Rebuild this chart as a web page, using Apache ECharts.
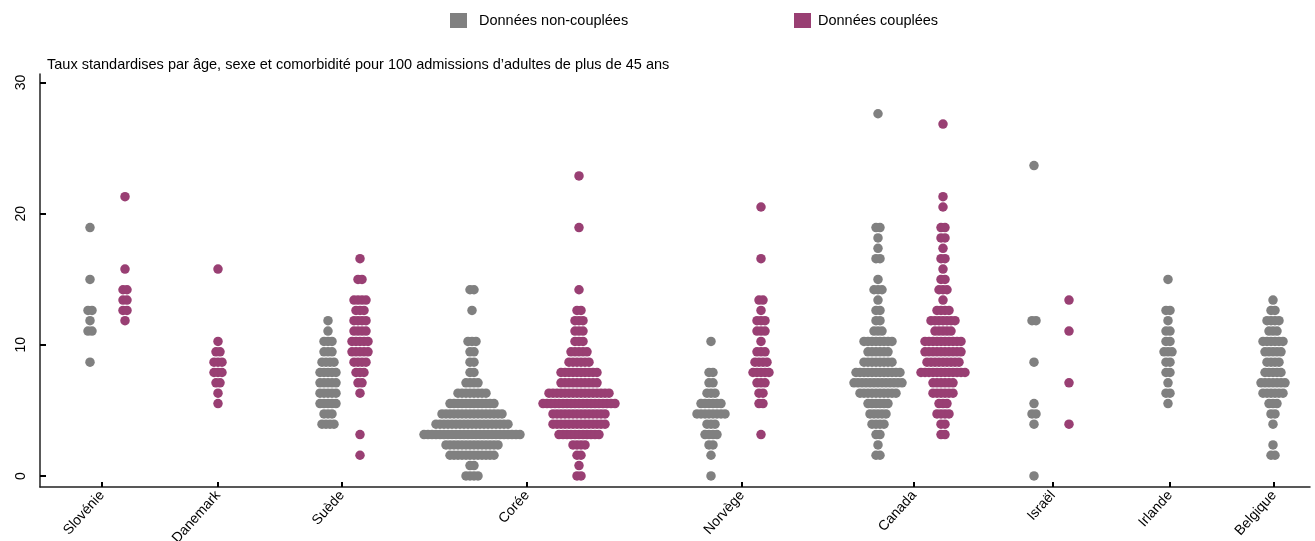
<!DOCTYPE html>
<html>
<head>
<meta charset="utf-8">
<script src="https://cdn.jsdelivr.net/npm/echarts@6/dist/echarts.min.js"></script>
<style>html,body{margin:0;padding:0;background:#fff}#c{width:1315px;height:541px}</style>
</head>
<body>
<div id="c"></div>
<script>
// ---------- DATA ----------
const categories = ['Slovénie','Danemark','Suède','Corée','Norvège','Canada','Israël','Irlande','Belgique'];
const yTickLabels = [0, 10, 20, 30];
const seriesNames = ['Données non-couplées', 'Données couplées'];
const titleText = 'Taux standardises par âge, sexe et comorbidité pour 100 admissions d\u2019adultes de plus de 45 ans';

// each entry: [rate value, number of units with that value]
const nonCouplees_Slovenie = [[18.94,1],[14.99,1],[12.62,2],[11.84,1],[11.05,2],[8.68,1]];
const couplees_Slovenie    = [[21.30,1],[15.78,1],[14.20,2],[13.41,2],[12.62,2],[11.84,1]];
const nonCouplees_Danemark = [];
const couplees_Danemark    = [[15.78,1],[10.26,1],[9.47,2],[8.68,3],[7.89,3],[7.10,2],[6.31,1],[5.52,1]];
const nonCouplees_Suede    = [[11.84,1],[11.05,1],[10.26,3],[9.47,3],[8.68,4],[7.89,5],[7.10,5],[6.31,5],[5.52,5],[4.73,3],[3.95,4]];
const couplees_Suede       = [[16.57,1],[14.99,2],[13.41,4],[12.62,3],[11.84,4],[11.05,4],[10.26,5],[9.47,5],[8.68,4],[7.89,3],[7.10,2],[6.31,1],[3.16,1],[1.58,1]];
const nonCouplees_Coree    = [[14.20,2],[12.62,1],[10.26,3],[9.47,2],[8.68,2],[7.89,2],[7.10,4],[6.31,8],[5.52,12],[4.73,16],[3.95,19],[3.16,25],[2.37,14],[1.58,12],[0.79,2],[0,4]];
const couplees_Coree       = [[22.88,1],[18.94,1],[14.20,1],[12.62,2],[11.84,3],[11.05,3],[10.26,3],[9.47,5],[8.68,6],[7.89,10],[7.10,10],[6.31,16],[5.52,19],[4.73,14],[3.95,14],[3.16,11],[2.37,4],[1.58,2],[0.79,1],[0,2]];
const nonCouplees_Norvege  = [[10.26,1],[7.89,2],[7.10,2],[6.31,3],[5.52,6],[4.73,8],[3.95,3],[3.16,4],[2.37,2],[1.58,1],[0,1]];
const couplees_Norvege     = [[20.51,1],[16.57,1],[13.41,2],[12.62,1],[11.84,3],[11.05,3],[10.26,1],[9.47,3],[8.68,4],[7.89,5],[7.10,3],[6.31,2],[5.52,2],[3.16,1]];
const nonCouplees_Canada   = [[27.62,1],[18.94,2],[18.15,1],[17.36,1],[16.57,2],[14.99,1],[14.20,3],[13.41,1],[12.62,2],[11.84,2],[11.05,3],[10.26,8],[9.47,6],[8.68,8],[7.89,12],[7.10,13],[6.31,10],[5.52,6],[4.73,5],[3.95,4],[3.16,2],[2.37,1],[1.58,2]];
const couplees_Canada      = [[26.83,1],[21.30,1],[20.51,1],[18.94,2],[18.15,2],[17.36,1],[16.57,2],[15.78,1],[14.99,2],[14.20,3],[13.41,1],[12.62,4],[11.84,7],[11.05,5],[10.26,10],[9.47,10],[8.68,9],[7.89,12],[7.10,6],[6.31,6],[5.52,3],[4.73,4],[3.95,2],[3.16,2]];
const nonCouplees_Israel   = [[23.67,1],[11.84,2],[8.68,1],[5.52,1],[4.73,2],[3.95,1],[0,1]];
const couplees_Israel      = [[13.41,1],[11.05,1],[7.10,1],[3.95,1]];
const nonCouplees_Irlande  = [[14.99,1],[12.62,2],[11.84,1],[11.05,2],[10.26,2],[9.47,3],[8.68,2],[7.89,2],[7.10,1],[6.31,2],[5.52,1]];
const couplees_Irlande     = [];
const nonCouplees_Belgique = [[13.41,1],[12.62,2],[11.84,4],[11.05,3],[10.26,6],[9.47,5],[8.68,4],[7.89,5],[7.10,7],[6.31,6],[5.52,3],[4.73,2],[3.95,1],[2.37,1],[1.58,2]];
const couplees_Belgique    = [];

const nonCouplees = [nonCouplees_Slovenie, nonCouplees_Danemark, nonCouplees_Suede, nonCouplees_Coree, nonCouplees_Norvege, nonCouplees_Canada, nonCouplees_Israel, nonCouplees_Irlande, nonCouplees_Belgique];
const couplees    = [couplees_Slovenie, couplees_Danemark, couplees_Suede, couplees_Coree, couplees_Norvege, couplees_Canada, couplees_Israel, couplees_Irlande, couplees_Belgique];

// ---------- LAYOUT (horizontal axis in layout units) ----------
const tickPos      = [102, 218, 342, 527, 742, 914, 1053, 1170, 1274];
const greyCenter   = [90, 218, 328, 472, 711, 878, 1034, 1168, 1273];
const purpleCenter = [125, 218, 360, 579, 761, 943, 1069, 1170, 1274];
const dotStep = 4;

function swarm(groups, centers) {
  const pts = [];
  groups.forEach((rows, gi) => {
    rows.forEach(([v, n]) => {
      for (let i = 0; i < n; i++) {
        pts.push([centers[gi] + (i - (n - 1) / 2) * dotStep, v]);
      }
    });
  });
  return pts;
}

const GREY = '#808080', PURPLE = '#993f73';
const FONT = 'Liberation Sans';

const chart = echarts.init(document.getElementById('c'), null, {renderer: 'canvas'});
chart.setOption({
  animation: false,
  backgroundColor: '#fff',
  title: {
    text: titleText, left: 42, top: 52,
    textStyle: {fontFamily: FONT, fontSize: 14.5, fontWeight: 'normal', color: '#000'}
  },
  legend: [
    {data: [seriesNames[0]], left: 445, top: 8, icon: 'rect', itemWidth: 17, itemHeight: 15,
     textStyle: {fontFamily: FONT, fontSize: 14.5, color: '#000', padding: [2, 0, 0, 7]}},
    {data: [seriesNames[1]], left: 789, top: 8, icon: 'rect', itemWidth: 17, itemHeight: 15,
     textStyle: {fontFamily: FONT, fontSize: 14.5, color: '#000', padding: [2, 0, 0, 2]}}
  ],
  grid: {left: 40, right: 5, top: 74, bottom: 54, outerBoundsMode: 'none', containLabel: false},
  xAxis: {
    type: 'value', min: 40, max: 1310,
    axisLine: {show: true, onZero: false, lineStyle: {color: '#222', width: 1.5}},
    splitLine: {show: false},
    axisTick: {show: true, inside: true, length: 5, customValues: tickPos, lineStyle: {color: '#000', width: 2}},
    axisLabel: {
      customValues: tickPos, rotate: 48, margin: 6,
      formatter: v => categories[tickPos.indexOf(v)] || '',
      fontFamily: FONT, fontSize: 14, color: '#000'
    }
  },
  yAxis: {
    type: 'value', min: -0.84, max: 30.65,
    axisLine: {show: true, onZero: false, lineStyle: {color: '#222', width: 1.5}},
    splitLine: {show: false},
    axisTick: {show: true, inside: true, length: 6, customValues: yTickLabels, lineStyle: {color: '#000', width: 2}},
    axisLabel: {
      customValues: yTickLabels, rotate: 90, margin: 12,
      fontFamily: FONT, fontSize: 14, color: '#000'
    }
  },
  series: [
    {name: seriesNames[0], type: 'scatter', symbol: 'circle', symbolSize: 9.5,
     itemStyle: {color: GREY, opacity: 1}, data: swarm(nonCouplees, greyCenter), z: 2},
    {name: seriesNames[1], type: 'scatter', symbol: 'circle', symbolSize: 9.5,
     itemStyle: {color: PURPLE, opacity: 1}, data: swarm(couplees, purpleCenter), z: 3}
  ]
});
</script>
</body>
</html>
